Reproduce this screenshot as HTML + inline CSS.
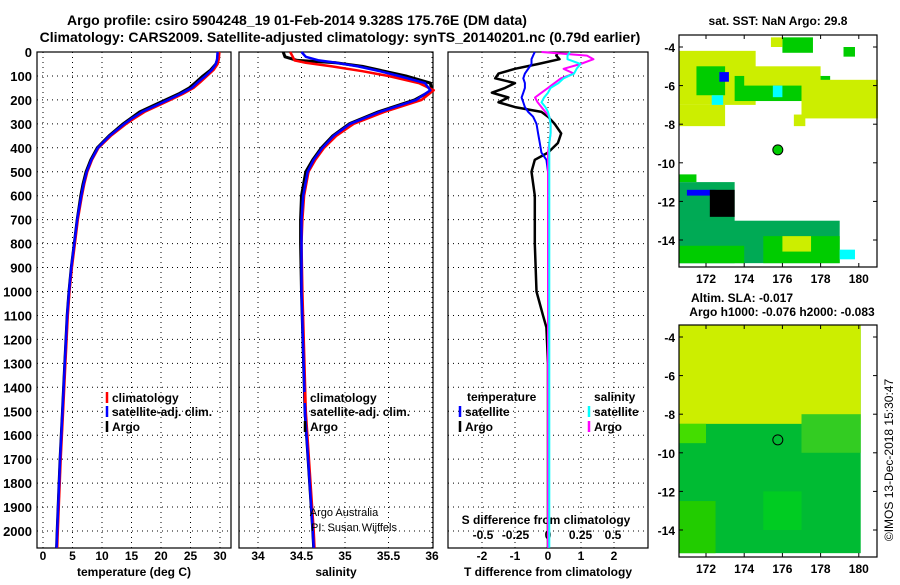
<!DOCTYPE html>
<html><head><meta charset="utf-8"><style>
body{margin:0;background:#fff}
svg{font-family:"Liberation Sans",sans-serif;font-weight:bold}
</style></head><body>
<svg id="c" width="900" height="580" viewBox="0 0 900 580" xmlns="http://www.w3.org/2000/svg">
<text x="297" y="25" font-size="14" text-anchor="middle">Argo profile: csiro 5904248_19 01-Feb-2014 9.328S 175.76E (DM data)</text>
<text x="340" y="42" font-size="14" text-anchor="middle">Climatology: CARS2009. Satellite-adjusted climatology: synTS_20140201.nc (0.79d earlier)</text>
<g id="g"></g>
</svg>
<script>
// ---- data ----
const depthT = [0,30,50,75,100,125,150,175,200,225,250,275,300,350,400,450,500,550,600,700,800,900,1000,1100,1200,1300,1500,1700,2000,2070];
const tempArgo = [29.7,29.6,29.3,28.4,27.1,26.0,24.8,23.0,20.8,18.6,16.4,15.0,13.6,11.2,9.2,8.1,7.3,6.8,6.4,5.8,5.3,4.8,4.4,4.1,3.9,3.7,3.3,2.9,2.4,2.3];
const tempClim = [29.9,29.8,29.6,28.9,27.8,26.7,25.5,23.7,21.6,19.4,17.2,15.6,14.1,11.5,9.4,8.3,7.5,7.0,6.6,5.9,5.4,4.9,4.5,4.2,4.0,3.8,3.4,3.0,2.5,2.4];
const tempSat  = [29.6,29.5,29.3,28.6,27.5,26.3,25.2,23.3,21.2,19.0,16.8,15.2,13.8,11.3,9.3,8.2,7.4,6.9,6.5,5.8,5.3,4.8,4.4,4.1,3.9,3.7,3.3,2.9,2.4,2.3];
const depthS = [0,20,35,45,60,80,100,130,160,200,250,300,350,400,450,500,600,700,800,1000,1500,2000,2070];
const salArgo = [34.29,34.31,34.45,34.9,35.2,35.45,35.7,35.98,36.0,35.8,35.38,35.05,34.86,34.73,34.63,34.55,34.5,34.49,34.49,34.5,34.54,34.63,34.64];
const salClim = [34.37,34.4,34.42,34.55,34.85,35.2,35.5,35.85,36.02,35.88,35.45,35.1,34.9,34.76,34.66,34.58,34.53,34.51,34.5,34.51,34.55,34.64,34.65];
const salSat  = [34.5,34.55,34.7,34.9,35.15,35.4,35.62,35.92,35.98,35.82,35.4,35.06,34.87,34.74,34.64,34.57,34.52,34.5,34.5,34.5,34.54,34.63,34.64];
const depthD = [0,15,30,50,70,90,110,130,150,170,190,210,230,250,270,300,340,380,420,450,500,600,800,1000,1100,1150,1300,2070];
const dTArgo = [0.3,0.25,0.35,-0.3,-1.0,-1.5,-1.6,-1.0,-1.3,-1.7,-1.2,-1.5,-1.0,-0.2,0.0,0.2,0.4,0.3,0.0,-0.4,-0.5,-0.4,-0.4,-0.35,-0.15,-0.05,0,0];
const dTSat  = [-0.4,-0.45,-0.5,-0.5,-0.6,-0.7,-0.75,-0.7,-0.7,-0.75,-0.8,-0.75,-0.7,-0.6,-0.45,-0.35,-0.3,-0.25,-0.2,-0.05,0,0,0,0,0,0,0,0];
const dSArgo = [-0.05,0.3,0.35,0.25,0.12,0.2,0.1,0.05,0.0,-0.05,-0.1,-0.08,-0.05,-0.02,0.01,0.02,0.02,0.01,0,0,0,0,0,0,0,0,0,0];
const dSSat  = [0.17,0.15,0.15,0.25,0.22,0.2,0.12,0.08,0.02,0.0,-0.03,-0.05,-0.02,0.0,0.01,0.02,0.02,0.01,0.01,0.01,0.01,0.01,0.01,0.01,0.01,0.01,0.01,0.01];
const depthTicks = [0,100,200,300,400,500,600,700,800,900,1000,1100,1200,1300,1400,1500,1600,1700,1800,1900,2000];
const tempTicks = [0,5,10,15,20,25,30];
const salTicks = ["34","34.5","35","35.5","36"];
const dTTicks = [-2,-1,0,1,2];
const dSTicks = ["-0.5","-0.25","0","0.25","0.5"];
const lonTicks = [172,174,176,178,180];
const latTicks = [-4,-6,-8,-10,-12,-14];
// ---- scales ----
const yD = d => 52 + d*0.2395;
const xT = t => 43 + t*5.9;
const xS = s => 258 + (s-34)*87;
const xDT = v => 548 + v*33;
const xDS = v => 548 + v*130;
const NS="http://www.w3.org/2000/svg", g=document.getElementById('g');
function mk(tag,a,txt){const e=document.createElementNS(NS,tag);for(const k in a)e.setAttribute(k,a[k]);if(txt!==undefined)e.textContent=txt;g.appendChild(e);return e;}
const panels=[[37,231],[239,433],[448,648]];
const bottom=548;
panels.forEach((p,i)=>{
  const r=mk('rect',{x:p[0],y:52,width:p[1]-p[0],height:bottom-52,fill:'none',stroke:'#000','stroke-width':1.2});
  
  
  depthTicks.forEach(d=>{if(d>0){const l=mk('line',{x1:p[0],x2:p[1],y1:yD(d),y2:yD(d),stroke:'#000','stroke-dasharray':'1,4'});
  }});
});
depthTicks.forEach(d=>{const t=mk('text',{x:32,y:yD(d)+5,'font-size':13,'text-anchor':'end'},d);
});
function vgrid(xs,fx,p){xs.forEach(v=>{const x=fx(+v);const l=mk('line',{x1:x,x2:x,y1:52,y2:bottom,stroke:'#000','stroke-dasharray':'1,4'});
});}
vgrid(tempTicks,xT);vgrid(salTicks,xS);vgrid(dTTicks,xDT);
function xlabels(xs,fx,y,name){xs.forEach(v=>{const t=mk('text',{x:fx(+v),y:y,'font-size':12,'text-anchor':'middle'},v);
});}
xlabels(tempTicks,xT,560,'temperature-tick-label');
xlabels(salTicks,xS,560,'salinity-tick-label');
xlabels(dTTicks,xDT,560,'t-diff-tick-label');
xlabels(dSTicks,xDS,539,'s-diff-tick-label');
[['temperature (deg C)',134,576,'temperature-axis-title'],['salinity',336,576,'salinity-axis-title'],['T difference from climatology',548,576,'t-diff-axis-title'],['S difference from climatology',546,524,'s-diff-axis-title']].forEach(a=>{
const t=mk('text',{x:a[1],y:a[2],'font-size':12,'text-anchor':'middle'},a[0]);});
function line(ds,vs,fx,col,w,name){const pts=ds.map((d,i)=>fx(vs[i]).toFixed(1)+','+yD(d).toFixed(1)).join(' ');
const l=mk('polyline',{points:pts,fill:'none',stroke:col,'stroke-width':w,'stroke-linejoin':'round'});}
line(depthT,tempArgo,xT,'#000',3,'temp-argo-line');
line(depthT,tempClim,xT,'#f00',2.5,'temp-climatology-line');
line(depthT,tempSat,xT,'#00f',2.5,'temp-satellite-line');
line(depthS,salArgo,xS,'#000',3,'sal-argo-line');
line(depthS,salClim,xS,'#f00',2.5,'sal-climatology-line');
line(depthS,salSat,xS,'#00f',2.5,'sal-satellite-line');
line(depthD,dTArgo,xDT,'#000',2.5,'t-diff-argo-line');
line(depthD,dTSat,xDT,'#00f',2,'t-diff-satellite-line');
line(depthD,dSArgo,xDS,'#f0f',2,'s-diff-argo-line');
line(depthD,dSSat,xDS,'#0ff',2,'s-diff-satellite-line');
function leg(x,y,col,txt,name){const l=mk('line',{x1:x,x2:x,y1:y-10,y2:y+1,stroke:col,'stroke-width':2.5});

const t=mk('text',{x:x+5,y:y,'font-size':12},txt);}
[[107,402,'#f00','climatology'],[107,416,'#00f','satellite-adj. clim.'],[107,431,'#000','Argo']].forEach(a=>leg(a[0],a[1],a[2],a[3],'legend-temp-'+a[3].split(/[ .]/)[0]));
[[305,402,'#f00','climatology'],[305,416,'#00f','satellite-adj. clim.'],[305,431,'#000','Argo']].forEach(a=>leg(a[0],a[1],a[2],a[3],'legend-sal-'+a[3].split(/[ .]/)[0]));
leg(460,416,'#00f','satellite','legend-tdiff-satellite');leg(460,431,'#000','Argo','legend-tdiff-argo');
leg(589,416,'#0ff','satellite','legend-sdiff-satellite');leg(589,431,'#f0f','Argo','legend-sdiff-argo');
[['temperature',467,401],['salinity',594,401]].forEach(a=>{const t=mk('text',{x:a[1],y:a[2],'font-size':12},a[0]);});
[['Argo Australia',344,516],['PI: Susan Wijffels',354,531]].forEach((a,i)=>{const t=mk('text',{x:a[1],y:a[2],'font-size':11,'font-weight':'normal','text-anchor':'middle'},a[0]);});
// ---- maps ----
const xL = lon => 706 + (lon-172)*19.1;
function yL(lat,top){return (top?47:337) + (-4-lat)*19.3;}
function mapFrame(y0,y1,top,name){
  const r=mk('rect',{x:679,y:y0,width:198,height:y1-y0,fill:'none',stroke:'#000','stroke-width':1.2});
  lonTicks.forEach(v=>{const x=xL(v);mk('line',{x1:x,x2:x,y1:y0,y2:y0+4,stroke:'#000'});mk('line',{x1:x,x2:x,y1:y1,y2:y1-4,stroke:'#000'});
    const t=mk('text',{x:x,y:y1+16,'font-size':12,'text-anchor':'middle'},v);});
  latTicks.forEach(v=>{const y=yL(v,top);mk('line',{x1:679,x2:683,y1:y,y2:y,stroke:'#000'});mk('line',{x1:877,x2:873,y1:y,y2:y,stroke:'#000'});
    const t=mk('text',{x:675,y:y+5,'font-size':12,'text-anchor':'end'},v);});
}
const sstBlocks=[[170.6,-4.2,174.6,-7,'#ccee00'],[171.5,-5,173,-6.5,'#00cc00'],[173.5,-5.5,178.5,-6.8,'#00cc00'],[174,-5,178,-6,'#ccee00'],[177,-5.7,181,-7.7,'#ccee00'],[170.6,-7,173,-8.1,'#ccee00'],[176.6,-7.5,177.2,-8.1,'#ccee00'],[176,-3.5,177.6,-4.3,'#00cc00'],[175.4,-3.5,176,-4,'#ccee00'],[179.2,-4,179.8,-4.5,'#00cc00'],[172.7,-5.3,173.2,-5.8,'#0000ff'],[172.3,-6.5,172.9,-7,'#00ffff'],[175.5,-6,176,-6.6,'#00ffff'],
[170.6,-11,173.5,-15.2,'#00aa55'],[170.6,-10.6,171.5,-11,'#00cc00'],[171,-11.4,172.5,-11.7,'#0000ff'],[172.2,-11.4,173.5,-12.8,'#000000'],[170.6,-13,179,-15.2,'#00aa55'],[175,-13.8,179,-15.2,'#00cc00'],[176,-13.8,177.5,-14.6,'#ccee00'],[179,-14.5,179.8,-15,'#00ffff'],[170.6,-14.3,174,-15.2,'#00cc00']];
sstBlocks.forEach(b=>{const r=mk('rect',{x:xL(b[0]),y:yL(b[1],1),width:xL(b[2])-xL(b[0]),height:yL(b[3],1)-yL(b[1],1),fill:b[4]});});
let c=mk('circle',{cx:xL(175.76),cy:yL(-9.328,1),r:5,fill:'#00cc00',stroke:'#000'});
mapFrame(35,267,1,'sst-map');
const slaBlocks=[[170.6,-3.4,180.1,-15.2,'#00bb33'],[170.6,-3.4,180.1,-8.5,'#ccee00'],[170.6,-8.5,172,-9.5,'#44dd00'],[177,-8,180.1,-10,'#33cc22'],[170.6,-12.5,172.5,-15.2,'#22cc00'],[175,-12,177,-14,'#00cc22']];
slaBlocks.forEach(b=>{const r=mk('rect',{x:xL(b[0]),y:yL(b[1],0),width:xL(b[2])-xL(b[0]),height:yL(b[3],0)-yL(b[1],0),fill:b[4]});});
c=mk('circle',{cx:xL(175.76),cy:yL(-9.328,0),r:5,fill:'none',stroke:'#000'});
mapFrame(325,557,0,'sla-map');
[['sat. SST: NaN Argo: 29.8',778,25,'sst-map-title'],['Altim. SLA: -0.017',742,302,'sla-map-title'],['Argo h1000: -0.076 h2000: -0.083',782,316,'sla-map-subtitle']].forEach(a=>{const t=mk('text',{x:a[1],y:a[2],'font-size':12,'text-anchor':'middle'},a[0]);});
const ts=mk('text',{x:0,y:0,'font-size':12,'font-weight':'normal','text-anchor':'middle',transform:'translate(893,460) rotate(-90)'},'©IMOS 13-Dec-2018 15:30:47');

</script>
</body></html>
